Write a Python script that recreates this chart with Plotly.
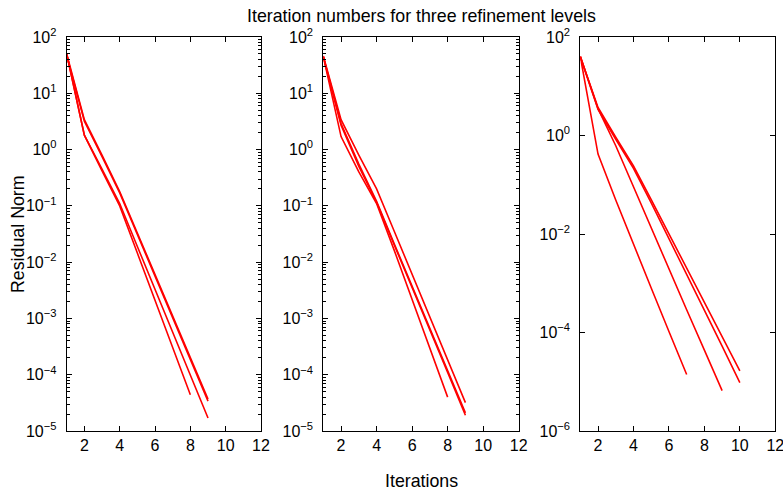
import plotly.graph_objects as go

# ---- data (residual norm per iteration) ----
p1_x = [[1, 2, 3, 4, 5, 6, 7, 8, 9],
        [1, 2, 3, 4, 5, 6, 7, 8, 9],
        [1, 2, 3, 4, 5, 6, 7, 8],
        [1, 2, 3, 4, 5, 6, 7, 8, 9]]
p1_y = [[50, 3.4, 0.8, 0.18, 0.033, 6.0e-3, 1.1e-3, 2.0e-4, 3.7e-5],
        [47, 3.2, 0.75, 0.17, 0.031, 5.6e-3, 1.0e-3, 1.85e-4, 3.4e-5],
        [50, 1.8, 0.42, 0.10, 0.0145, 2.1e-3, 3.0e-4, 4.4e-5],
        [50, 1.8, 0.45, 0.11, 0.019, 3.3e-3, 5.7e-4, 1.0e-4, 1.7e-5]]

p2_x = [[1, 2, 3, 4, 5, 6, 7, 8, 9],
        [1, 2, 3, 4, 5, 6, 7, 8],
        [1, 2, 3, 4, 5, 6, 7, 8, 9],
        [1, 2, 3, 4, 5, 6, 7, 8, 9]]
p2_y = [[46, 3.4, 0.8, 0.20, 0.035, 6.2e-3, 1.07e-3, 1.86e-4, 3.2e-5],
        [45, 1.7, 0.4, 0.11, 0.016, 2.2e-3, 3.0e-4, 4.0e-5],
        [45, 2.9, 0.55, 0.12, 0.021, 3.8e-3, 6.8e-4, 1.17e-4, 2.1e-5],
        [44, 2.7, 0.5, 0.115, 0.020, 3.6e-3, 6.4e-4, 1.1e-4, 1.9e-5]]

p3_x = [[1, 2, 3, 4, 5, 6, 7],
        [1, 2, 3, 4, 5, 6, 7, 8, 9],
        [1, 2, 3, 4, 5, 6, 7, 8, 9, 10],
        [1, 2, 3, 4, 5, 6, 7, 8, 9, 10]]
p3_y = [[40, 0.42, 0.049, 6.0e-3, 8.0e-4, 1.05e-4, 1.4e-5],
        [40, 3.5, 0.62, 0.09, 0.0130, 1.95e-3, 2.9e-4, 4.4e-5, 6.6e-6],
        [40, 3.7, 0.92, 0.24, 0.05, 1.02e-2, 2.0e-3, 4.1e-4, 8.1e-5, 1.66e-5],
        [40, 3.4, 0.84, 0.215, 0.043, 8.2e-3, 1.55e-3, 2.9e-4, 5.3e-5, 9.6e-6]]

x_ticks = [2, 4, 6, 8, 10, 12]
y_ticks_12 = [1e2, 1e1, 1e0, 1e-1, 1e-2, 1e-3, 1e-4, 1e-5]
y_text_12 = ["10<sup>2</sup>", "10<sup>1</sup>", "10<sup>0</sup>", "10<sup>\u22121</sup>",
             "10<sup>\u22122</sup>", "10<sup>\u22123</sup>", "10<sup>\u22124</sup>", "10<sup>\u22125</sup>"]
y_ticks_3 = [1e2, 1e0, 1e-2, 1e-4, 1e-6]
y_text_3 = ["10<sup>2</sup>", "10<sup>0</sup>", "10<sup>\u22122</sup>",
            "10<sup>\u22124</sup>", "10<sup>\u22126</sup>"]

title_text = "Iteration numbers for three refinement levels"
ylabel_text = "Residual Norm"
xlabel_text = "Iterations"

W, H = 783, 491
FONT = "Liberation Sans, Arial, Helvetica, sans-serif"

fig = go.Figure()
panels = [(p1_x, p1_y, "x", "y"), (p2_x, p2_y, "x2", "y2"), (p3_x, p3_y, "x3", "y3")]
for xs, ys, xa, ya in panels:
    for xv, yv in zip(xs, ys):
        fig.add_trace(go.Scatter(x=xv, y=yv, mode="lines", xaxis=xa, yaxis=ya,
                                 line=dict(color="#ff0000", width=1.6), showlegend=False,
                                 hoverinfo="skip"))

xdomains = [(66.7 / W, 261.0 / W), (323.3 / W, 518.7 / W), (580.3 / W, 775.3 / W)]
ydom = (1 - 431.0 / H, 1 - 37.0 / H)

common_x = dict(range=[1, 12], tickmode="array", tickvals=x_ticks, automargin=False,
                ticks="inside", ticklen=5, tickwidth=1, tickcolor="black",
                showline=True, linecolor="black", linewidth=1, mirror="ticks",
                showgrid=False, zeroline=False, ticklabelstandoff=0,
                ticklabeloverflow="allow",
                tickfont=dict(family=FONT, size=16, color="black"))
common_y = dict(type="log", ticks="inside", ticklen=5, tickwidth=1, tickcolor="black",
                showline=True, linecolor="black", linewidth=1, mirror="ticks",
                showgrid=False, zeroline=False, tickmode="array", automargin=False,
                ticklabelstandoff=6, ticklabeloverflow="allow",
                tickfont=dict(family=FONT, size=16, color="black"))

layout = dict(width=W, height=H, margin=dict(l=0, r=0, t=0, b=0, autoexpand=False),
              paper_bgcolor="white", plot_bgcolor="white",
              font=dict(family=FONT, size=17, color="black"))
for i, (d, yt, ytt, yr, minor) in enumerate([
        (xdomains[0], y_ticks_12, y_text_12, [-5, 2], True),
        (xdomains[1], y_ticks_12, y_text_12, [-5, 2], True),
        (xdomains[2], y_ticks_3, y_text_3, [-6, 2], False)]):
    s = "" if i == 0 else str(i + 1)
    xa = dict(common_x, domain=list(d), anchor="y" + s)
    ya = dict(common_y, domain=list(ydom), anchor="x" + s, range=yr,
              tickvals=yt, ticktext=ytt)
    if minor:
        ya["minor"] = dict(ticks="inside", ticklen=3, tickcolor="black", tickwidth=1,
                           dtick="D1", showgrid=False)
    layout["xaxis" + s] = xa
    layout["yaxis" + s] = ya

layout["annotations"] = [
    dict(text=title_text, x=422 / W, y=1 - 16 / H, xref="paper", yref="paper",
         showarrow=False, font=dict(family=FONT, size=17.8, color="black"),
         xanchor="center", yanchor="middle"),
    dict(text=ylabel_text, x=18 / W, y=1 - 234 / H, xref="paper", yref="paper",
         showarrow=False, textangle=-90, font=dict(family=FONT, size=17.8, color="black"),
         xanchor="center", yanchor="middle"),
    dict(text=xlabel_text, x=421 / W, y=1 - 481 / H, xref="paper", yref="paper",
         showarrow=False, font=dict(family=FONT, size=17.8, color="black"),
         xanchor="center", yanchor="middle"),
]
fig.update_layout(**layout)
fig.write_html("out.html", config={"displayModeBar": False},
               post_script="document.body.style.margin='0';document.body.style.overflow='hidden';")
